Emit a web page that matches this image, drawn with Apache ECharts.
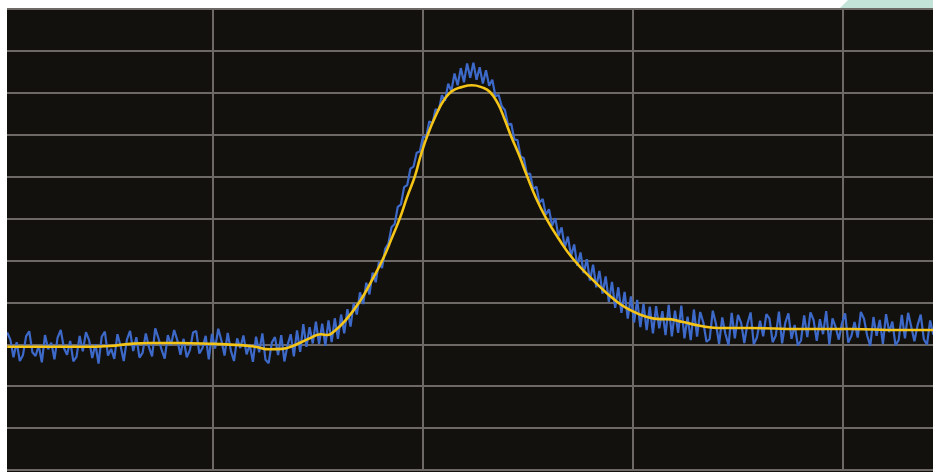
<!DOCTYPE html>
<html>
<head>
<meta charset="utf-8">
<script src="https://cdn.jsdelivr.net/npm/echarts@6/dist/echarts.min.js"></script>
<style>
  html, body { margin: 0; padding: 0; background: #ffffff; }
  #chart { width: 933px; height: 472px; }
</style>
</head>
<body>
<div id="chart"></div>
<script>
// Spectrum trace: frequency axis in MHz, level in dBm.
const freqTicks = [0, 100, 200, 300, 400, 500];
const levelTicks = [-110, -100, -90, -80, -70, -60, -50, -40, -30, -20, -10, 0];

// Raw sweep: first sample frequency and sample step (MHz)
const sweepStart = 2;
const sweepStep = 1.5;

// Raw measured trace (dBm), one value per sweep sample
const rawTrace = [
  -77.2, -78.9, -83.1, -79.5, -84.0, -82.6, -78.1, -76.9, -81.9, -82.8,
  -80.3, -84.3, -77.8, -81.2, -79.6, -83.6, -78.4, -76.6, -80.9, -82.5,
  -79.2, -84.1, -83.0, -78.0, -81.7, -77.1, -79.0, -83.3, -80.0, -84.6,
  -78.2, -77.0, -82.7, -81.1, -83.5, -77.6, -80.4, -84.0, -78.9, -76.8,
  -81.6, -78.3, -83.2, -82.0, -77.4, -80.7, -82.9, -76.2, -78.5, -81.3,
  -83.4, -77.8, -80.2, -76.6, -79.0, -82.5, -78.7, -83.1, -81.4, -77.2,
  -76.8, -82.2, -80.9, -78.0, -83.6, -77.5, -81.0, -76.3, -79.1, -82.7,
  -77.3, -81.5, -84.0, -78.6, -80.9, -77.9, -82.4, -80.1, -84.2, -78.2,
  -81.9, -77.4, -83.7, -84.5, -79.6, -78.3, -82.6, -77.8, -84.1, -80.2,
  -77.6, -82.9, -76.7, -81.8, -75.2, -80.6, -75.9, -79.8, -74.6, -79.9,
  -75.1, -80.4, -74.3, -79.5, -73.8, -78.7, -72.9, -77.4, -71.6, -75.8,
  -70.2, -72.9, -67.6, -70.4, -65.3, -68.1, -62.9, -65.2, -60.4, -61.8,
  -57.2, -56.0, -52.1, -51.3, -47.2, -46.6, -42.5, -42.0, -38.1, -37.6,
  -34.3, -34.0, -30.5, -30.6, -26.8, -27.3, -23.9, -24.2, -20.6, -21.9,
  -17.8, -19.6, -15.4, -18.2, -14.1, -17.5, -13.0, -16.4, -12.8, -16.9,
  -13.9, -17.8, -14.6, -18.3, -16.9, -20.8, -20.5, -23.2, -24.1, -27.6,
  -27.4, -31.1, -31.3, -35.2, -35.6, -39.4, -39.3, -43.0, -42.4, -46.2,
  -45.3, -49.1, -47.8, -51.7, -49.9, -54.2, -52.1, -56.9, -54.3, -58.9,
  -56.2, -61.3, -58.1, -63.0, -59.7, -64.8, -61.0, -66.4, -62.5, -67.9,
  -63.8, -69.9, -65.1, -71.3, -66.4, -72.5, -67.5, -73.9, -68.6, -74.8,
  -69.4, -75.9, -70.3, -76.6, -71.0, -77.4, -70.9, -76.2, -72.1, -77.8,
  -70.6, -78.1, -72.0, -77.3, -70.8, -78.6, -73.4, -79.0, -71.7, -78.2,
  -72.3, -74.8, -79.4, -78.8, -72.0, -75.1, -79.9, -73.6, -77.5, -80.2,
  -72.5, -78.6, -73.0, -74.9, -79.7, -75.1, -72.4, -80.0, -78.4, -74.4,
  -78.1, -72.8, -73.9, -79.5, -77.9, -72.2, -79.8, -74.9, -72.6, -78.7,
  -75.4, -80.3, -79.1, -73.1, -78.3, -72.4, -74.2, -79.2, -74.0, -77.6,
  -72.1, -80.1, -73.8, -75.9, -78.9, -75.0, -72.6, -79.6, -78.0, -74.7,
  -78.4, -72.3, -73.9, -77.9, -80.4, -73.5, -78.0, -74.2, -79.9, -72.8,
  -77.1, -74.6, -80.2, -79.0, -73.0, -78.6, -72.5, -75.8, -79.3, -75.5,
  -72.9, -78.8, -80.1, -74.3, -77.7
];

// Fitted (smoothed) trace: [MHz, dBm]
const fitTrace = [
  [2, -80.6], [18, -80.6], [37, -80.6], [51, -80.4], [60.5, -79.9], [70, -79.7],
  [84, -79.7], [100, -79.9], [113, -80.2], [120, -80.6], [127, -81.2], [133, -81.1],
  [138, -80.4], [146, -78.6], [151.5, -77.6], [154.5, -77.8], [157.5, -77.0],
  [163.3, -74.2], [170, -69.7], [175.7, -64.7], [181, -59.6], [185.2, -54.6],
  [189, -49.9], [192.4, -44.9], [196.2, -39.8], [199, -34.8], [202.4, -29.8],
  [206.2, -25.3], [210, -21.7], [213.8, -19.6], [218.6, -18.6], [223.3, -18.2],
  [228.1, -18.7], [231.9, -19.8], [235.7, -22.6], [239, -26.5], [241.9, -30.3],
  [245.7, -34.8], [249.5, -39.8], [253.8, -45.1], [258.6, -49.9], [264.3, -54.6],
  [271.4, -59.6], [281, -64.7], [291.9, -69.7], [298.6, -71.8], [306.7, -73.5],
  [312.9, -74.0], [316, -74.0], [323.8, -74.7], [331.9, -75.6], [340, -76.1],
  [355.7, -76.1], [379.5, -76.35], [403.3, -76.35], [427.1, -76.6], [443, -76.6]
];

const rawPoints = rawTrace.map((v, i) => [sweepStart + i * sweepStep, v]);

const gridLine = { show: true, lineStyle: { color: '#6d6966', width: 2 } };

const chart = echarts.init(document.getElementById('chart'), null, { renderer: 'canvas' });
chart.setOption({
  backgroundColor: '#13110d',
  animation: false,
  // The sweep window extends past the right edge of the view
  grid: { left: 3, right: -120, top: 9, bottom: 2, containLabel: false, outerBoundsMode: 'none' },
  xAxis: {
    type: 'value',
    min: freqTicks[0],
    max: freqTicks[freqTicks.length - 1],
    interval: freqTicks[1] - freqTicks[0],
    axisLine: { show: false }, axisTick: { show: false }, axisLabel: { show: false },
    splitLine: gridLine
  },
  yAxis: {
    type: 'value',
    min: levelTicks[0],
    max: levelTicks[levelTicks.length - 1],
    interval: levelTicks[1] - levelTicks[0],
    axisLine: { show: false }, axisTick: { show: false }, axisLabel: { show: false },
    splitLine: gridLine
  },
  series: [
    {
      name: 'trace',
      type: 'line',
      data: rawPoints,
      showSymbol: false,
      lineStyle: { color: '#3d69c9', width: 2.2 },
      z: 2
    },
    {
      name: 'fit',
      type: 'line',
      data: fitTrace,
      smooth: 0.5,
      showSymbol: false,
      lineStyle: { color: '#f4c417', width: 2.6 },
      z: 3
    }
  ],
  graphic: [
    { type: 'rect', left: 0, top: 0, shape: { width: 7, height: 472 }, style: { fill: '#ffffff' }, z: 100 },
    { type: 'rect', left: 0, top: 0, shape: { width: 933, height: 8 }, style: { fill: '#ffffff' }, z: 100 },
    { type: 'polygon', shape: { points: [[840, 8], [848, 0], [933, 0], [933, 8]] }, style: { fill: '#c3e3d9' }, z: 101 }
  ]
});
</script>
</body>
</html>
